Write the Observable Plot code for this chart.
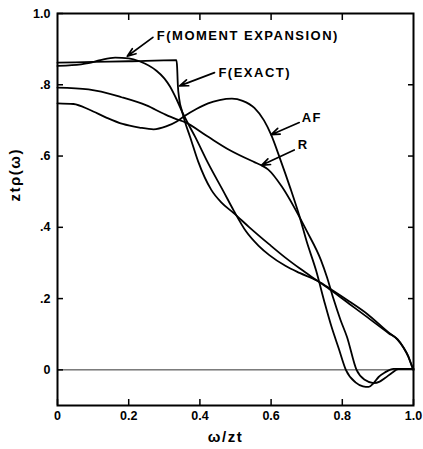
<!DOCTYPE html>
<html>
<head>
<meta charset="utf-8">
<script src="https://cdn.jsdelivr.net/npm/d3@7"></script>
<script src="https://cdn.jsdelivr.net/npm/@observablehq/plot@0.6"></script>
<style>
  html, body { margin: 0; padding: 0; background: #fff; }
  svg g.spaced text { letter-spacing: 1.5px; }
</style>
</head>
<body>
<div id="chart"></div>
<script>
// ---- data ----
const xTicks = [0, 0.2, 0.4, 0.6, 0.8, 1.0];
const xTickLabels = ["0", "0.2", "0.4", "0.6", "0.8", "1.0"];
const yTicks = [0, 0.2, 0.4, 0.6, 0.8, 1.0];
const yTickLabels = ["0", ".2", ".4", ".6", ".8", "1.0"];

const fExactX = [0, 0.10, 0.20, 0.334, 0.336, 0.338, 0.342, 0.35, 0.36, 0.372, 0.395, 0.432, 0.46, 0.495, 0.539, 0.595, 0.64, 0.68, 0.73, 0.77, 0.82, 0.87, 0.93, 0.955, 0.972, 0.985, 0.995, 1.0];
const fExactY = [0.862, 0.864, 0.866, 0.869, 0.85, 0.80, 0.76, 0.725, 0.69, 0.655, 0.585, 0.505, 0.47, 0.44, 0.40, 0.352, 0.315, 0.285, 0.25, 0.222, 0.185, 0.148, 0.103, 0.085, 0.062, 0.038, 0.012, 0.0];

const fMomentX = [0, 0.04, 0.087, 0.12, 0.162, 0.20, 0.23, 0.277, 0.30, 0.316, 0.335, 0.353, 0.37, 0.386, 0.423, 0.465, 0.495, 0.53, 0.565, 0.595, 0.64, 0.68, 0.73, 0.77, 0.82, 0.87, 0.93, 0.955, 0.972, 0.985, 0.995, 1.0];
const fMomentY = [0.853, 0.855, 0.861, 0.869, 0.876, 0.874, 0.866, 0.84, 0.818, 0.795, 0.758, 0.718, 0.685, 0.655, 0.58, 0.503, 0.447, 0.388, 0.348, 0.322, 0.292, 0.272, 0.25, 0.225, 0.192, 0.157, 0.105, 0.086, 0.063, 0.039, 0.012, 0.0];

const afX = [0, 0.045, 0.09, 0.137, 0.183, 0.23, 0.27, 0.305, 0.335, 0.358, 0.39, 0.423, 0.455, 0.49, 0.52, 0.553, 0.58, 0.60, 0.626, 0.654, 0.68, 0.70, 0.726, 0.75, 0.77, 0.79, 0.81, 0.837, 0.858, 0.874, 0.888, 0.902, 0.92, 0.944, 0.97, 1.0];
const afY = [0.748, 0.746, 0.73, 0.708, 0.69, 0.68, 0.675, 0.683, 0.697, 0.713, 0.732, 0.748, 0.757, 0.761, 0.755, 0.735, 0.70, 0.66, 0.59, 0.51, 0.43, 0.36, 0.28, 0.19, 0.12, 0.06, 0.0, -0.035, -0.046, -0.048, -0.037, -0.02, -0.007, 0.003, 0.003, 0.003];

const rX = [0, 0.087, 0.18, 0.25, 0.30, 0.33, 0.358, 0.42, 0.483, 0.553, 0.573, 0.592, 0.631, 0.67, 0.70, 0.74, 0.757, 0.775, 0.795, 0.813, 0.84, 0.863, 0.888, 0.905, 0.92, 0.94, 0.957, 0.98, 1.0];
const rY = [0.792, 0.787, 0.765, 0.742, 0.718, 0.705, 0.695, 0.656, 0.617, 0.583, 0.574, 0.562, 0.513, 0.447, 0.39, 0.308, 0.26, 0.2, 0.14, 0.093, 0.0, -0.028, -0.037, -0.033, -0.023, -0.008, 0.002, 0.003, 0.003];

// annotation labels (text, text anchor point, arrow tail, arrow tip) in data units
const labelTexts = ["F(MOMENT EXPANSION)", "F(EXACT)", "AF", "R"];
const labelX = [0.279, 0.452, 0.686, 0.675];
const labelY = [0.938, 0.834, 0.708, 0.632];
const arrowX1 = [0.268, 0.441, 0.679, 0.665];
const arrowY1 = [0.933, 0.834, 0.694, 0.617];
const arrowX2 = [0.196, 0.343, 0.600, 0.573];
const arrowY2 = [0.880, 0.797, 0.660, 0.574];

const xLabel = "ω/zt";
const yLabel = "ztρ(ω)";

// ---- build tables ----
const toRows = (xs, ys, name) => xs.map((x, i) => ({x, y: ys[i], name}));
const curves = [
  ...toRows(fExactX, fExactY, "F(EXACT)"),
  ...toRows(fMomentX, fMomentY, "F(MOMENT EXPANSION)"),
  ...toRows(afX, afY, "AF"),
  ...toRows(rX, rY, "R")
];
const labels = labelTexts.map((t, i) => ({
  t, x: labelX[i], y: labelY[i],
  x1: arrowX1[i], y1: arrowY1[i], x2: arrowX2[i], y2: arrowY2[i]
}));
const fmtX = d => xTickLabels[xTicks.indexOf(d)];
const fmtY = d => yTickLabels[yTicks.indexOf(d)];

const chart = Plot.plot({
  width: 423,
  height: 449,
  marginLeft: 57,
  marginRight: 10,
  marginTop: 13,
  marginBottom: 44,
  style: {fontFamily: "'Liberation Sans', Arial, sans-serif", fontSize: "12.5px", fontWeight: "bold", color: "#000", background: "#fff"},
  x: {domain: [0, 1], axis: null},
  y: {domain: [-0.1, 1.0], axis: null},
  marks: [
    Plot.ruleY([0], {stroke: "#333", strokeWidth: 1}),
    Plot.axisX(xTicks, {anchor: "bottom", tickSize: -6, tickPadding: 12, tickFormat: fmtX, label: null, strokeWidth: 1.5}),
    Plot.axisX(xTicks.slice(1, -1), {anchor: "top", tickSize: -6, tickFormat: () => "", label: null, strokeWidth: 1.5}),
    Plot.axisY(yTicks, {anchor: "left", tickSize: -6, tickPadding: 13, tickFormat: fmtY, label: null, strokeWidth: 1.5}),
    Plot.axisY(yTicks.slice(1, -1), {anchor: "right", tickSize: -6, tickFormat: () => "", label: null, strokeWidth: 1.5}),
    Plot.frame({stroke: "#000", strokeWidth: 2}),
    Plot.line(curves, {x: "x", y: "y", z: "name", stroke: "#000", strokeWidth: 1.8, curve: "monotone-x"}),
    Plot.arrow(labels, {x1: "x1", y1: "y1", x2: "x2", y2: "y2", stroke: "#000", strokeWidth: 1.7, headLength: 8, headAngle: 40}),
    Plot.text(labels, {x: "x", y: "y", text: "t", textAnchor: "start", fontSize: 13, fontWeight: "bold", fill: "#000", className: "spaced"}),
    Plot.text([xLabel], {text: d => d, frameAnchor: "bottom", dy: 36, dx: -10, fontSize: 15, fontWeight: "bold", fill: "#000", className: "spaced"}),
    Plot.text([yLabel], {text: d => d, frameAnchor: "left", rotate: -90, dx: -42, dy: -8, fontSize: 15, fontWeight: "bold", fill: "#000", className: "spaced"})
  ]
});
document.getElementById("chart").appendChild(chart);
</script>
</body>
</html>
